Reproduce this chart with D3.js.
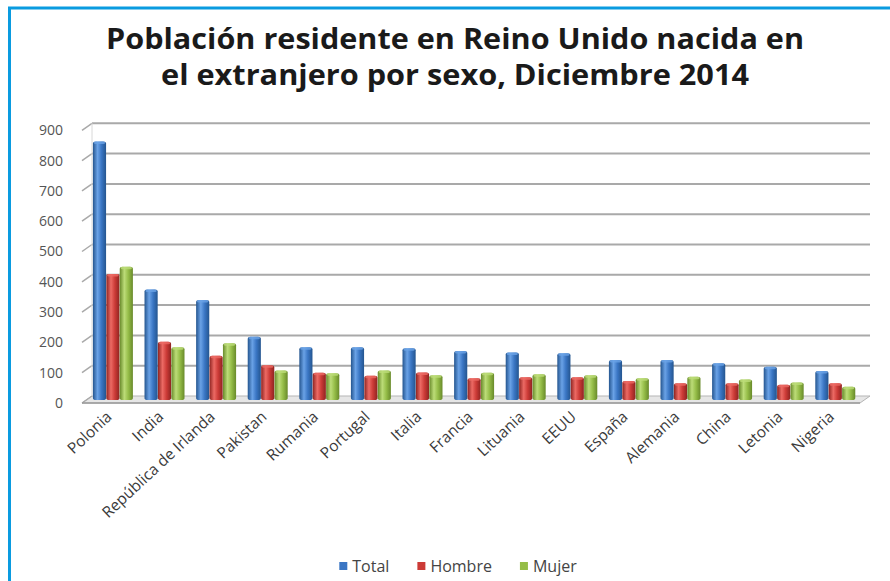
<!DOCTYPE html>
<html>
<head>
<meta charset="utf-8">
<script src="https://cdn.jsdelivr.net/npm/d3@7"></script>
<style>
  html, body { margin: 0; padding: 0; background: #ffffff; }
  svg { display: block; }
</style>
</head>
<body>
<svg id="chart" width="890" height="581"></svg>
<script>
// ---- data ----
const categories = ["Polonia", "India", "República de Irlanda", "Pakistan", "Rumania", "Portugal", "Italia", "Francia", "Lituania", "EEUU", "España", "Alemania", "China", "Letonia", "Nigeria"];
const seriesNames = ["Total", "Hombre", "Mujer"];
const totalValues  = [853, 365, 330, 209, 174, 174, 171, 162, 157, 154, 132, 132, 121, 110, 96];
const hombreValues = [416, 192, 146, 115, 90, 80, 91, 72, 75, 75, 63, 55, 55, 50, 55];
const mujerValues  = [440, 174, 187, 97, 88, 97, 82, 90, 85, 82, 72, 77, 68, 58, 44];
const yTicks = [0, 100, 200, 300, 400, 500, 600, 700, 800, 900];
const titleLines = ["Población residente en Reino Unido nacida en", "el extranjero por sexo, Diciembre 2014"];

const seriesValues = [totalValues, hombreValues, mujerValues];
const colors = {
  Total:  { base: "#3a76c4", light: "#6aa2e6", dark: "#24558f" },
  Hombre: { base: "#cc3b37", light: "#ec6a64", dark: "#8f2421" },
  Mujer:  { base: "#95bd48", light: "#bcdc78", dark: "#688a2a" }
};

const svg = d3.select("#chart");
const W = 890, H = 581;

// ---- border ----
svg.append("rect").attr("x", 0).attr("y", 0).attr("width", W).attr("height", H).attr("fill", "#ffffff");
svg.append("path")
  .attr("d", `M9.5,${H + 5} L9.5,8 L${W + 5},8`)
  .attr("fill", "none").attr("stroke", "#0a9be0").attr("stroke-width", 3);

// ---- title ----
const titleG = svg.append("g").attr("font-family", "'Open Sans', 'Noto Sans', sans-serif")
  .attr("font-weight", "bold").attr("fill", "#1a1a1a");
const titleWidths = [698, 588];
titleLines.forEach((t, i) => {
  titleG.append("text")
    .attr("x", 455).attr("y", 49 + i * 36)
    .attr("text-anchor", "middle")
    .attr("font-size", 29)
    .attr("textLength", titleWidths[i])
    .attr("lengthAdjust", "spacingAndGlyphs")
    .text(t);
});

// ---- scales ----
const baseY = 400;
const pxPerUnit = 0.303;
const y = d3.scaleLinear().domain([0, 900]).range([baseY, baseY - 900 * pxPerUnit]);
const yFront = v => y(v) + 3;
const yBack = v => y(v) - 4;

const x0 = d3.scaleBand().domain(categories).range([87.5, 860.7]).paddingInner(0.215).paddingOuter(0.1);
const x1 = d3.scaleBand().domain(seriesNames).range([0, x0.bandwidth()]).padding(0.02);

const plotLeftBack = 92, plotRightBack = 870;
const plotLeftFront = 82, plotRightFront = 860;

// ---- floor ----
svg.append("path")
  .attr("d", `M${plotLeftFront},${yFront(0)} L${plotLeftBack},${yBack(0)} L${plotRightBack},${yBack(0)} L${plotRightFront},${yFront(0)} Z`)
  .attr("fill", "#e6e6e6").attr("stroke", "#b5b5b5").attr("stroke-width", 1);

// ---- gridlines on back wall ----
const grid = svg.append("g");
grid.selectAll("line.h").data(yTicks.filter(v => v > 0)).join("line")
  .attr("class", "h")
  .attr("x1", plotLeftBack).attr("x2", plotRightBack)
  .attr("y1", d => yBack(d)).attr("y2", d => yBack(d))
  .attr("stroke", "#a9a9a9").attr("stroke-width", 2);
grid.selectAll("line.s").data(yTicks).join("line")
  .attr("class", "s")
  .attr("x1", plotLeftFront).attr("x2", plotLeftBack)
  .attr("y1", d => yFront(d)).attr("y2", d => yBack(d))
  .attr("stroke", "#a9a9a9").attr("stroke-width", 1.5);
grid.append("line")
  .attr("x1", plotLeftBack).attr("x2", plotLeftBack)
  .attr("y1", yBack(900)).attr("y2", yBack(0))
  .attr("stroke", "#d8d8d8").attr("stroke-width", 1);

// ---- y axis labels ----
const yAxis = d3.axisLeft(d3.scaleLinear().domain([0, 900]).range([yFront(0), yFront(900)]))
  .tickValues(yTicks).tickSize(0).tickPadding(0).tickFormat(d3.format("d"));
const yAxisG = svg.append("g").attr("transform", "translate(63,0)").call(yAxis);
yAxisG.select(".domain").remove();
yAxisG.selectAll("text").attr("font-family", "'Open Sans', 'Noto Sans', sans-serif")
  .attr("font-size", 14).attr("fill", "#555555");

// ---- gradients ----
const defs = svg.append("defs");
seriesNames.forEach(s => {
  const g = defs.append("linearGradient").attr("id", "grad-" + s).attr("x1", "0%").attr("x2", "100%").attr("y1", "0%").attr("y2", "0%");
  g.append("stop").attr("offset", "0%").attr("stop-color", colors[s].dark);
  g.append("stop").attr("offset", "35%").attr("stop-color", colors[s].light);
  g.append("stop").attr("offset", "65%").attr("stop-color", colors[s].base);
  g.append("stop").attr("offset", "100%").attr("stop-color", colors[s].dark);
});

// ---- bars ----
const rows = categories.map((c, i) => ({ cat: c, vals: seriesNames.map((s, k) => ({ s, v: seriesValues[k][i] })) }));
const groups = svg.append("g").selectAll("g").data(rows).join("g")
  .attr("transform", d => `translate(${x0(d.cat)},0)`);
groups.selectAll("rect.bar").data(d => d.vals).join("rect")
  .attr("class", "bar")
  .attr("x", d => x1(d.s))
  .attr("y", d => y(d.v))
  .attr("width", x1.bandwidth())
  .attr("height", d => baseY - y(d.v))
  .attr("rx", 3).attr("ry", 2)
  .attr("fill", d => `url(#grad-${d.s})`);
groups.selectAll("rect.cap").data(d => d.vals).join("rect")
  .attr("class", "cap")
  .attr("x", d => x1(d.s) + 1)
  .attr("y", d => y(d.v))
  .attr("width", x1.bandwidth() - 2)
  .attr("height", 2.5)
  .attr("rx", 1.5)
  .attr("fill", d => colors[d.s].light).attr("opacity", 0.8);

// ---- front floor edge ----
svg.append("line").attr("x1", plotLeftFront).attr("x2", plotRightFront)
  .attr("y1", yFront(0)).attr("y2", yFront(0)).attr("stroke", "#9a9a9a").attr("stroke-width", 1.5);

// ---- x labels ----
const xl = svg.append("g").attr("font-family", "'Open Sans', 'Noto Sans', sans-serif")
  .attr("font-size", 15.5).attr("fill", "#3a3a3a");
xl.selectAll("text").data(categories).join("text")
  .attr("text-anchor", "end")
  .attr("transform", d => `translate(${x0(d) + x0.bandwidth() / 2},${418}) rotate(-43)`)
  .text(d => d);

// ---- legend ----
const legend = svg.append("g").attr("font-family", "'Open Sans', 'Noto Sans', sans-serif")
  .attr("font-size", 16).attr("fill", "#444444");
let cx = 0;
const items = [];
seriesNames.forEach(s => {
  const g = legend.append("g");
  g.append("rect").attr("x", 0).attr("y", -4).attr("width", 8).attr("height", 8).attr("fill", colors[s].base);
  const t = g.append("text").attr("x", 13).attr("y", 5.5).text(s);
  const w = 13 + t.node().getComputedTextLength();
  items.push({ g, w });
});
const gap = 28;
const totalW = d3.sum(items, d => d.w) + gap * (items.length - 1);
cx = 458 - totalW / 2;
items.forEach(it => { it.g.attr("transform", `translate(${cx},566)`); cx += it.w + gap; });
</script>
</body>
</html>
